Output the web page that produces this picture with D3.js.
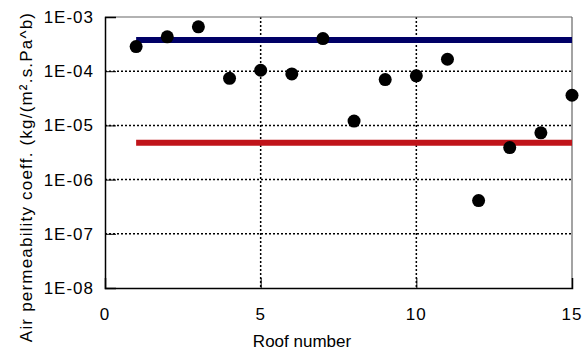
<!DOCTYPE html>
<meta charset="utf-8">
<style>
	body { margin: 0; background: #fff; }
	text { font-family: "Liberation Sans", Arial, sans-serif; fill: #000; }
</style>
<body>
	<div id="chart"></div>
</body>
<script src="https://cdn.jsdelivr.net/npm/d3@7"></script>
<script>
	const width = 582,
	    height = 354,
	    margin = {top: 17, right: 10, bottom: 66, left: 105};

	// data
	const roofs = [1, 2, 3, 4, 5, 6, 7, 8, 9, 10, 11, 12, 13, 14, 15];
	const permeability = [2.85e-4, 4.3e-4, 6.6e-4, 7.4e-5, 1.04e-4, 8.9e-5, 4.0e-4,
	    1.2e-5, 7.0e-5, 8.2e-5, 1.66e-4, 4.1e-7, 3.9e-6, 7.3e-6, 3.6e-5];
	const refLevels = [3.77e-4, 4.8e-6];
	const refColors = ["#000066", "#c0141a"];
	const refRange = [1, 15];
	const xTicks = [0, 5, 10, 15];
	const yTicks = [1e-3, 1e-4, 1e-5, 1e-6, 1e-7, 1e-8];
	const yTickLabels = ["1E-03", "1E-04", "1E-05", "1E-06", "1E-07", "1E-08"];

	const svg = d3.select("#chart").append("svg")
	    .attr("width", width)
	    .attr("height", height);

	const x = d3.scaleLinear().domain([0, 15]).range([margin.left, width - margin.right]);
	const y = d3.scaleLog().domain([1e-8, 1e-3]).range([height - margin.bottom, margin.top]);

	// dotted grid at the inner ticks
	svg.append("g").selectAll("line")
	    .data(yTicks.slice(1, -1))
	    .enter().append("line")
	        .attr("x1", x(0)).attr("x2", x(15))
	        .attr("y1", d => y(d)).attr("y2", d => y(d))
	        .style("stroke", "#000")
	        .style("stroke-width", 1.5)
	        .style("stroke-dasharray", "2,2");

	svg.append("g").selectAll("line")
	    .data(xTicks.slice(1, -1))
	    .enter().append("line")
	        .attr("x1", d => x(d)).attr("x2", d => x(d))
	        .attr("y1", y(1e-3)).attr("y2", y(1e-8))
	        .style("stroke", "#000")
	        .style("stroke-width", 1.5)
	        .style("stroke-dasharray", "2,2");

	// frame: top and right grey, left and bottom black
	svg.append("line")
	    .attr("x1", x(0)).attr("x2", x(15)).attr("y1", y(1e-3)).attr("y2", y(1e-3))
	    .style("stroke", "#666").style("stroke-width", 1.2);
	svg.append("line")
	    .attr("x1", x(15)).attr("x2", x(15)).attr("y1", y(1e-3)).attr("y2", y(1e-8))
	    .style("stroke", "#666").style("stroke-width", 1.2);

	const yAxis = svg.append("g")
	    .attr("transform", "translate(" + x(0) + ",0)")
	    .call(d3.axisRight(y).tickValues(yTicks).tickSize(11).tickFormat(""));
	yAxis.select(".domain").style("stroke-width", 1.5);

	const xAxis = svg.append("g")
	    .attr("transform", "translate(0," + y(1e-8) + ")")
	    .call(d3.axisTop(x).tickValues(xTicks).tickSize(10).tickFormat(""));
	xAxis.select(".domain").style("stroke-width", 1.5);

	// tick labels
	svg.append("g").selectAll("text")
	    .data(yTicks)
	    .enter().append("text")
	        .attr("x", x(0) - 11)
	        .attr("y", d => y(d))
	        .attr("dy", "0.35em")
	        .attr("text-anchor", "end")
	        .style("font-size", "17px")
	        .style("letter-spacing", "1px")
	        .text((d, i) => yTickLabels[i]);

	svg.append("g").selectAll("text")
	    .data(xTicks)
	    .enter().append("text")
	        .attr("x", d => x(d))
	        .attr("y", 320)
	        .attr("text-anchor", "middle")
	        .style("font-size", "17px")
	        .style("letter-spacing", "1px")
	        .text(d => d);

	// reference levels
	svg.append("g").selectAll("line")
	    .data(refLevels)
	    .enter().append("line")
	        .attr("x1", x(refRange[0])).attr("x2", x(refRange[1]))
	        .attr("y1", d => y(d)).attr("y2", d => y(d))
	        .style("stroke", (d, i) => refColors[i])
	        .style("stroke-width", 6);

	// measured roofs
	svg.append("g").selectAll("circle")
	    .data(roofs)
	    .enter().append("circle")
	        .attr("cx", d => x(d))
	        .attr("cy", (d, i) => y(permeability[i]))
	        .attr("r", 6.5)
	        .style("fill", "#000");

	// axis titles
	svg.append("text")
	    .attr("x", 302)
	    .attr("y", 347)
	    .attr("text-anchor", "middle")
	    .style("font-size", "17px")
	    .text("Roof number");

	svg.append("text")
	    .attr("transform", "translate(32," + 177 + ") rotate(-90)")
	    .attr("text-anchor", "middle")
	    .style("font-size", "17px")
	    .style("letter-spacing", "1.2px")
	    .text("Air permeability coeff. (kg/(m².s.Pa^b)");
</script>
